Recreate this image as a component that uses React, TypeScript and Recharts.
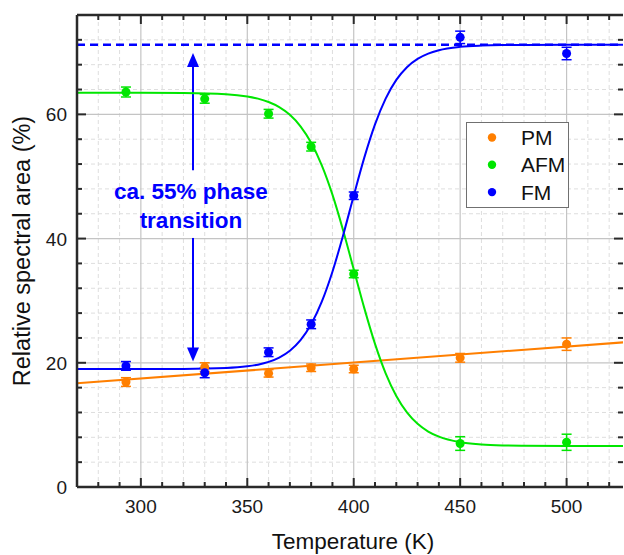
import React from 'react';
import {
  ComposedChart,
  Scatter,
  Line,
  XAxis,
  YAxis,
  CartesianGrid,
  ErrorBar,
  ReferenceLine,
  ReferenceDot,
  Legend,
} from 'recharts';

const FONT = '"Liberation Sans", Arial, sans-serif';
const ORANGE = '#ff7f00';
const GREEN = '#00e600';
const BLUE = '#0000ff';
const AXIS = '#2a2a2a';

// measured points
const TEMPS = [293, 330, 360, 380, 400, 450, 500];
const PM_VALUES = [16.9, 19.3, 18.3, 19.2, 19.0, 20.8, 23.0];
const PM_ERR = [0.7, 0.7, 0.6, 0.6, 0.6, 0.7, 1.0];
const AFM_VALUES = [63.6, 62.5, 60.1, 54.8, 34.3, 7.0, 7.2];
const AFM_ERR = [0.8, 0.7, 0.7, 0.7, 0.6, 1.1, 1.3];
const FM_VALUES = [19.5, 18.4, 21.7, 26.2, 46.9, 72.4, 69.8];
const FM_ERR = [0.7, 0.8, 0.7, 0.7, 0.6, 1.0, 1.0];

// fitted curves
const FIT_T = [270, 300, 320, 340, 350, 355, 360, 365, 370, 375, 380, 385, 390, 395, 400, 405, 410, 415, 420, 425, 430, 435, 440, 450, 460, 470, 480, 500, 527];
const FM_FIT = [19.0, 19.0, 19.02, 19.16, 19.43, 19.7, 20.14, 20.84, 21.94, 23.65, 26.2, 29.84, 34.66, 40.51, 46.9, 53.07, 58.39, 62.54, 65.55, 67.6, 68.94, 69.79, 70.33, 70.87, 71.08, 71.16, 71.18, 71.2, 71.2];
const AFM_FIT = [63.5, 63.49, 63.45, 63.25, 62.88, 62.53, 61.99, 61.17, 59.93, 58.08, 55.43, 51.79, 47.07, 41.35, 35.05, 28.76, 23.04, 18.3, 14.66, 12.01, 10.17, 8.93, 8.11, 7.22, 6.86, 6.7, 6.64, 6.6, 6.6];
const PM_FIT_T = [270, 527];
const PM_FIT = [16.7, 23.3];

// annotation
const FM_PLATEAU = 71.2;
const ARROW_T = 324.5;
const ARROW_TOP = 69.9;
const ARROW_BOTTOM = 20.2;
const GAP_TOP = 51.0;
const GAP_BOTTOM = 40.1;
const LABEL_T = 323.5;
const LABEL_V = 44.5;
const LABEL_LINES = ['ca. 55% phase', 'transition'];

// axes
const X_DOMAIN = [270, 526.5];
const Y_DOMAIN = [0, 76];
const X_TICKS = [280, 290, 300, 310, 320, 330, 340, 350, 360, 370, 380, 390, 400, 410, 420, 430, 440, 450, 460, 470, 480, 490, 500, 510, 520];
const Y_TICKS = [0, 4, 8, 12, 16, 20, 24, 28, 32, 36, 40, 44, 48, 52, 56, 60, 64, 68, 72];
const X_MAJOR = [300, 350, 400, 450, 500];
const Y_MAJOR = [0, 20, 40, 60];
const X_MINOR = X_TICKS.filter((t) => !X_MAJOR.includes(t));
const Y_MINOR = Y_TICKS.filter((t) => !Y_MAJOR.includes(t));

const SERIES = [
  { name: 'PM', color: ORANGE, values: PM_VALUES, err: PM_ERR },
  { name: 'AFM', color: GREEN, values: AFM_VALUES, err: AFM_ERR },
  { name: 'FM', color: BLUE, values: FM_VALUES, err: FM_ERR },
];

const toPoints = (values: number[], err: number[]) => TEMPS.map((t, i) => ({ x: t, y: values[i], err: err[i] }));
const toCurve = (xs: number[], ys: number[]) => xs.map((t, i) => ({ x: t, y: ys[i] }));

const BottomTick = (props: any) => {
  const { x, y, payload } = props;
  const major = X_MAJOR.includes(payload.value);
  return (
    <g>
      <line x1={x} x2={x} y1={y} y2={y - (major ? 9 : 5)} stroke={AXIS} strokeWidth={2} />
      {major && (
        <text x={x} y={y + 26} textAnchor="middle" fontSize={19} fontFamily={FONT} fill="#1a1a1a">
          {payload.value}
        </text>
      )}
    </g>
  );
};

const TopTick = (props: any) => {
  const { x, y, payload } = props;
  const major = X_MAJOR.includes(payload.value);
  return <line x1={x} x2={x} y1={y} y2={y + (major ? 9 : 5)} stroke={AXIS} strokeWidth={2} />;
};

const LeftTick = (props: any) => {
  const { x, y, payload } = props;
  const major = Y_MAJOR.includes(payload.value);
  return (
    <g>
      <line x1={x} x2={x + (major ? 9 : 5)} y1={y} y2={y} stroke={AXIS} strokeWidth={2} />
      {major && (
        <text x={x - 10} y={y + 7} textAnchor="end" fontSize={19} fontFamily={FONT} fill="#1a1a1a">
          {payload.value}
        </text>
      )}
    </g>
  );
};

const RightTick = (props: any) => {
  const { x, y, payload } = props;
  const major = Y_MAJOR.includes(payload.value);
  return <line x1={x} x2={x - (major ? 9 : 5)} y1={y} y2={y} stroke={AXIS} strokeWidth={2} />;
};

const ArrowHead = (props: any) => {
  const { cx, cy, payload } = props;
  const s = payload.dir === 'up' ? 1 : -1;
  const d = `M${cx},${cy} L${cx - 6},${cy + s * 14} L${cx + 6},${cy + s * 14} Z`;
  return <path d={d} fill={BLUE} stroke="none" />;
};

const ARROW_HEADS = [
  { x: ARROW_T, y: ARROW_TOP, dir: 'up' },
  { x: ARROW_T, y: ARROW_BOTTOM, dir: 'down' },
];

const LegendBox = () => (
  <svg width={104} height={87} style={{ display: 'block' }}>
    <rect x={0.5} y={0.5} width={102} height={85} fill="#fff" stroke="#707070" strokeWidth={1} />
    {SERIES.map((s, i) => (
      <g key={s.name}>
        <circle cx={26} cy={15.5 + i * 27.3} r={4.2} fill={s.color} />
        <text x={55} y={15.5 + i * 27.3 + 7.5} fontSize={21} fontFamily={FONT} fill="#111">
          {s.name}
        </text>
      </g>
    ))}
  </svg>
);

const AnnotationLabel = (props: any) => {
  const vb = props.viewBox || {};
  const cx = vb.x + (vb.width || 0) / 2;
  const cy = vb.y + (vb.height || 0) / 2;
  return (
    <g>
      <text x={cx} y={cy - 12} textAnchor="middle" fontSize={22.5} fontWeight="bold" fontFamily={FONT} fill={BLUE}>
        {LABEL_LINES[0]}
      </text>
      <text x={cx} y={cy + 17} textAnchor="middle" fontSize={22.5} fontWeight="bold" fontFamily={FONT} fill={BLUE}>
        {LABEL_LINES[1]}
      </text>
    </g>
  );
};

const XTitle = (props: any) => {
  const vb = props.viewBox || {};
  return (
    <text x={vb.x + vb.width / 2 + 3} y={549} textAnchor="middle" fontSize={22.5} fontFamily={FONT} fill="#111">
      Temperature (K)
    </text>
  );
};

const YTitle = (props: any) => {
  const vb = props.viewBox || {};
  const cy = vb.y + vb.height / 2;
  return (
    <text x={30} y={cy} transform={`rotate(-90, 30, ${cy})`} textAnchor="middle" fontSize={23.5} fontFamily={FONT} fill="#111">
      Relative spectral area (%)
    </text>
  );
};

export default function App() {
  return (
    <div style={{ position: 'absolute', left: 0, top: 0, width: 624, height: 555, background: '#fff' }}>
      <ComposedChart width={624} height={555} margin={{ top: 14, right: 0, bottom: 67, left: 76 }}>
        <CartesianGrid horizontalValues={Y_MINOR} verticalValues={X_MINOR} stroke="#dedede" strokeDasharray="4 3" strokeWidth={1} />
        <CartesianGrid horizontalValues={Y_MAJOR} verticalValues={X_MAJOR} stroke="#c4c4c4" strokeWidth={1.2} />
        <XAxis
          xAxisId={0}
          type="number"
          dataKey="x"
          domain={X_DOMAIN}
          ticks={X_TICKS}
          interval={0}
          height={1}
          tickSize={0}
          tickMargin={0}
          tickLine={false}
          tick={<BottomTick />}
          axisLine={{ stroke: AXIS, strokeWidth: 2.5 }}
          allowDataOverflow
          label={<XTitle />}
        />
        <XAxis
          xAxisId="top"
          orientation="top"
          type="number"
          dataKey="x"
          domain={X_DOMAIN}
          ticks={X_TICKS}
          interval={0}
          height={1}
          tickSize={0}
          tickMargin={0}
          tickLine={false}
          tick={<TopTick />}
          axisLine={{ stroke: AXIS, strokeWidth: 2.5 }}
          allowDataOverflow
        />
        <YAxis
          yAxisId={0}
          type="number"
          dataKey="y"
          domain={Y_DOMAIN}
          ticks={Y_TICKS}
          interval={0}
          width={1}
          tickSize={0}
          tickMargin={0}
          tickLine={false}
          tick={<LeftTick />}
          axisLine={{ stroke: AXIS, strokeWidth: 2.5 }}
          allowDataOverflow
          label={<YTitle />}
        />
        <YAxis
          yAxisId="right"
          orientation="right"
          type="number"
          domain={Y_DOMAIN}
          ticks={Y_TICKS}
          interval={0}
          width={1}
          tickSize={0}
          tickMargin={0}
          tickLine={false}
          tick={<RightTick />}
          axisLine={false}
          allowDataOverflow
        />

        <ReferenceLine y={FM_PLATEAU} stroke={BLUE} strokeWidth={2.5} strokeDasharray="8 5" />
        <ReferenceLine segment={[{ x: ARROW_T, y: ARROW_TOP - 1 }, { x: ARROW_T, y: GAP_TOP }]} stroke={BLUE} strokeWidth={2} />
        <ReferenceLine segment={[{ x: ARROW_T, y: GAP_BOTTOM }, { x: ARROW_T, y: ARROW_BOTTOM + 1 }]} stroke={BLUE} strokeWidth={2} />
        <ReferenceDot x={LABEL_T} y={LABEL_V} r={0} fill="none" stroke="none" label={<AnnotationLabel />} />

        <Line data={toCurve(PM_FIT_T, PM_FIT)} dataKey="y" type="linear" stroke={ORANGE} strokeWidth={2} dot={false} legendType="none" isAnimationActive={false} />
        <Line data={toCurve(FIT_T, AFM_FIT)} dataKey="y" type="monotone" stroke={GREEN} strokeWidth={2} dot={false} legendType="none" isAnimationActive={false} />
        <Line data={toCurve(FIT_T, FM_FIT)} dataKey="y" type="monotone" stroke={BLUE} strokeWidth={2} dot={false} legendType="none" isAnimationActive={false} />

        <Scatter data={ARROW_HEADS} dataKey="y" shape={<ArrowHead />} legendType="none" isAnimationActive={false} />

        {SERIES.map((s) => (
          <Scatter key={s.name} name={s.name} data={toPoints(s.values, s.err)} dataKey="y" fill={s.color} isAnimationActive={false}>
            <ErrorBar dataKey="err" direction="y" width={5} stroke={s.color} strokeWidth={1.5} />
          </Scatter>
        ))}

        <Legend
          layout="horizontal"
          verticalAlign="middle"
          align="center"
          content={<LegendBox />}
          wrapperStyle={{ left: 466, top: 122, right: 'auto', bottom: 'auto', width: 104, height: 87 }}
        />
      </ComposedChart>
    </div>
  );
}
